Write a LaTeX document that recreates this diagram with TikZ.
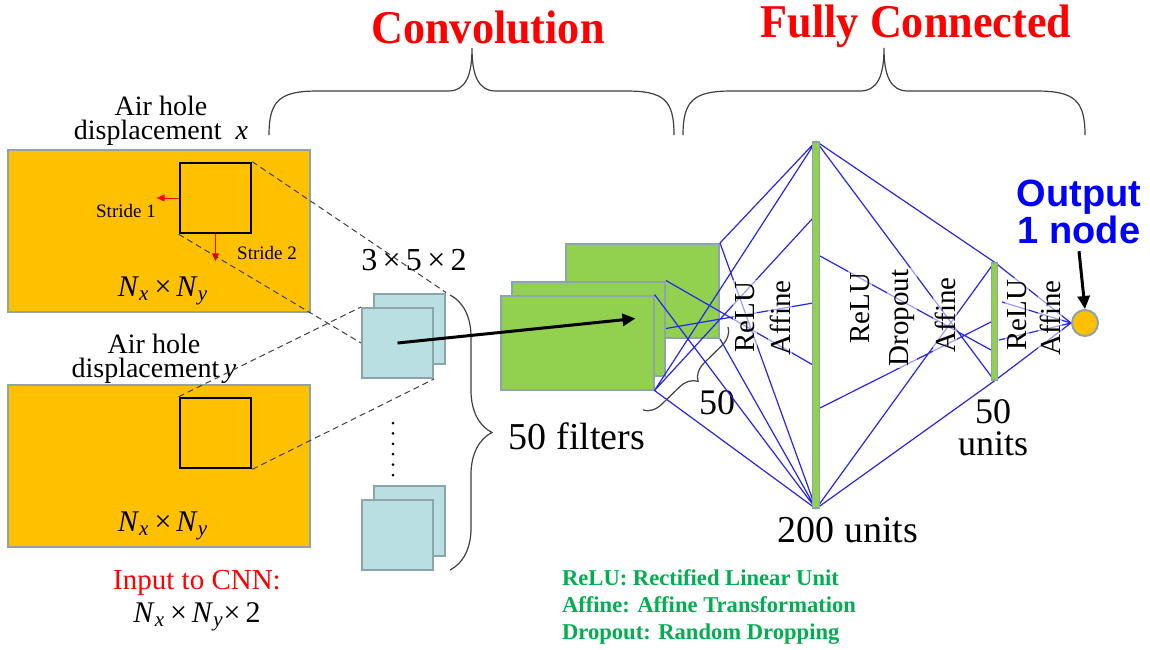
\documentclass[tikz,border=0pt]{standalone}
\usepackage{fontspec}
\setmainfont{Liberation Serif}
\newfontfamily\headfont{Liberation Sans}
\usetikzlibrary{arrows.meta,decorations.pathreplacing}

\definecolor{boxorange}{HTML}{FFC000}
\definecolor{edgegray}{HTML}{8DA4AB}
\definecolor{filterblue}{HTML}{B9DFE3}
\definecolor{mapgreen}{HTML}{92D050}
\definecolor{linkblue}{HTML}{2626F0}
\definecolor{notegreen}{HTML}{00B050}

% input size N_x x N_y
\newcommand{\NxNy}{\textit{N}\textsubscript{\textit{x}}\,×\,\textit{N}\textsubscript{\textit{y}}}

\begin{document}
\begin{tikzpicture}[x=0.5pt,y=-0.5pt,
    inbox/.style={draw=edgegray,line width=1pt,fill=boxorange,inner sep=0pt,minimum width=151pt,minimum height=81pt},
    window/.style={draw=black,line width=1.3pt,inner sep=0pt,minimum width=35.5pt,minimum height=35pt},
    filter/.style={draw=edgegray,line width=1pt,fill=filterblue,inner sep=0pt,minimum width=35.5pt,minimum height=35pt},
    fmap/.style={draw=edgegray,line width=1pt,fill=mapgreen,inner sep=0pt,minimum width=76.5pt,minimum height=47pt},
    layer/.style={draw=edgegray,line width=0.8pt,fill=mapgreen,inner sep=0pt},
    link/.style={linkblue,line width=0.6pt},
    proj/.style={black!75,line width=0.5pt,dash pattern=on 3pt off 2pt},
    stride/.style={red,line width=0.5pt,-{Triangle[length=4pt,width=3.5pt]}},
    bigarrow/.style={line width=1.5pt,-{Triangle[length=6.5pt,width=6pt]}},
    curly/.style={black!75,line width=0.6pt,decorate,decoration={brace,amplitude=#1}},
    op/.style={rotate=90,fill=white,fill opacity=0.55,text opacity=1,inner sep=1pt,font=\fontsize{14.5pt}{15pt}\selectfont},
    title/.style={red,inner sep=1pt,font=\fontsize{23.5pt}{25pt}\selectfont\bfseries},
    caption/.style={anchor=base,inner sep=0pt,text height=9.5pt,font=\fontsize{14pt}{14pt}\selectfont},
    size/.style={font=\fontsize{15pt}{16pt}\selectfont},
    count/.style={align=center,font=\fontsize{18pt}{16.5pt}\selectfont}]

    \path[use as bounding box,fill=white] (0,0) rectangle (1150,649);

    % section headings
    \node[title] (conv) at (488,27) {\scalebox{0.94}[1]{Convolution}};
    \node[title] (full) at (916,26) {\scalebox{0.94}[1]{Fully Connected}};
    \draw[black!75,line width=0.6pt] (269,135) .. controls (269,100) and (280,91) .. (318,91) -- (448,91)
        .. controls (466,91) and (472,75) .. (472,48) .. controls (472,75) and (478,91) .. (496,91)
        -- (626,91) .. controls (664,91) and (674,100) .. (674,135);
    \draw[black!75,line width=0.6pt] (683,135) .. controls (683,100) and (694,91) .. (732,91) -- (860,91)
        .. controls (878,91) and (884,75) .. (884,48) .. controls (884,75) and (890,91) .. (908,91)
        -- (1036,91) .. controls (1074,91) and (1085,100) .. (1085,135);

    % the two input planes
    \node[caption,text depth=0.5pt] (capx1) at (161,115) {Air hole};
    \node[caption,text depth=3pt] (capx2) at (161,139) {displacement\ \ \textit{x}};
    \node[inbox] (in1) at (159,231) {};
    \node[window] (win1) at (215.5,198) {};
    \node[font=\fontsize{9.5pt}{10pt}\selectfont] (s1) at (126,211) {Stride 1};
    \node[font=\fontsize{9.5pt}{10pt}\selectfont] (s2) at (267,253) {Stride 2};
    \draw[stride] (win1.west) -- ++(-22,0);
    \draw[stride] (win1.south) -- ++(0,27);
    \node[size] (n1) at (163,291) {\NxNy};

    \node[caption,text depth=0.5pt] (capy1) at (154,353) {Air hole};
    \node[caption,text depth=3pt] (capy2) at (154,377) {displacement\,\textit{y}};
    \node[inbox] (in2) at (159,466) {};
    \node[window] (win2) at (215.5,433) {};
    \node[size] (n2) at (163,526) {\NxNy};

    \node[red,font=\fontsize{14.5pt}{15pt}\selectfont] (inlbl) at (197,583) {Input to CNN:};
    \node[size] (insize) at (197,617) {\textit{N}\textsubscript{\textit{x}}\,×\,\textit{N}\textsubscript{\textit{y}}×\,2};

    % filters
    \node[size,font=\fontsize{16pt}{16pt}\selectfont] (ksize) at (414,260) {3\,×\,5\,×\,2};
    \node[filter] (fb1) at (409.5,328.5) {};
    \node[filter] (ff1) at (397.5,343) {};
    \node[filter] (fb2) at (409.5,521) {};
    \node[filter] (ff2) at (397.5,535) {};
    \draw[line width=1.5pt,line cap=round,dash pattern=on 0pt off 5.2pt] (393,423) -- (393,475);
    \draw[curly=21pt] (450,295) -- (450,570);
    \node[count,font=\fontsize{19pt}{16pt}\selectfont] (nf) at (577,436) {50 filters};

    \draw[proj] (win1.north east) -- (fb1.north east);
    \draw[proj] (win1.south west) -- (ff1.west);
    \draw[proj] (win2.north west) -- (ff1.north west);
    \draw[proj] (win2.south east) -- (ff1.south east);

    % feature maps
    \node[fmap] (gm1) at (642.5,291) {};
    \node[fmap] (gm2) at (588.5,328.5) {};
    \node[fmap] (gm3) at (577,342.5) {};
    \draw[bigarrow] (ff1.center) -- ([xshift=-9.5pt,yshift=12pt]gm3.east);
    \draw[curly=9pt] (728,327) -- (643,410);
    \node[count] (nmaps) at (717,403) {50};

    % dense layers
    \node[layer,minimum width=3.5pt,minimum height=183pt] (bar1) at (816,325) {};
    \node[layer,minimum width=3pt,minimum height=58.5pt] (bar2) at (994.5,321.5) {};
    \node[circle,draw=edgegray,line width=1pt,fill=boxorange,inner sep=0pt,minimum size=13pt] (outnode) at (1085,323) {};

    \coordinate (dst218) at (813,218);
    \coordinate (dst303) at (813,303);
    \coordinate (dst365) at (813,365);
    \coordinate (src256) at (820,256);
    \coordinate (src408) at (820,408);
    \coordinate (dst322) at (991,322);
    \coordinate (dst350) at (991,350);
    \coordinate (src302) at (1002,302);
    \coordinate (src340) at (999,340);

    \draw[link] (gm1.north east) -- (bar1.north)
                (gm1.north east) -- (bar1.south)
                (gm1.south east) -- (bar1.south)
                (gm2.north east) -- (dst365)
                (gm2.east) -- (dst303)
                (gm3.north east) -- (bar1.south)
                (gm3.south east) -- (bar1.north)
                (gm3.south east) -- (dst218)
                (gm3.south east) -- (bar1.south)
                (bar1.north) -- (bar2.north)
                (bar1.north) -- (bar2.south)
                (src256) -- (dst350)
                (src408) -- (dst322)
                (bar1.south) -- (bar2.north)
                (bar1.south) -- (bar2.south)
                (bar2.north) -- (outnode.west)
                (bar2.south) -- (outnode.west)
                (src302) -- (outnode.west)
                (src340) -- (outnode.west);
    \node[layer,minimum width=3.5pt,minimum height=183pt] at (bar1) {};
    \node[layer,minimum width=3pt,minimum height=58.5pt] at (bar2) {};

    \node[op] (relu1) at (745,317) {ReLU};
    \node[op] (aff1) at (780,318) {Affine};
    \node[op] (relu2) at (860,308) {ReLU};
    \node[op] (drop) at (902,318) {Dropout};
    \node[op] (aff2) at (945,315) {Affine};
    \node[op] (relu3) at (1017,315) {ReLU};
    \node[op] (aff3) at (1050,318) {Affine};

    \node[count,font=\fontsize{19pt}{16pt}\selectfont] (n200) at (848,530) {200 units};
    \node[count,anchor=base,inner sep=0pt,text height=12pt,text depth=0pt] (n50) at (993,423) {50};
    \node[count,anchor=base,inner sep=0pt,text height=12pt,text depth=0pt] (nunits) at (993,455) {units};

    \node[blue,align=center,font=\headfont\bfseries\fontsize{19pt}{16.5pt}\selectfont] (outlbl) at (1079,212) {Output\\1 node};
    \draw[bigarrow] (outlbl.south) -- (outnode.north);

    % abbreviations
    \node[notegreen,anchor=west,align=left,font=\fontsize{11.3pt}{13.5pt}\selectfont\bfseries] (notes) at (555,607)
        {ReLU: Rectified Linear Unit\\Affine: Affine Transformation\\Dropout: Random Dropping};
\end{tikzpicture}
\end{document}
